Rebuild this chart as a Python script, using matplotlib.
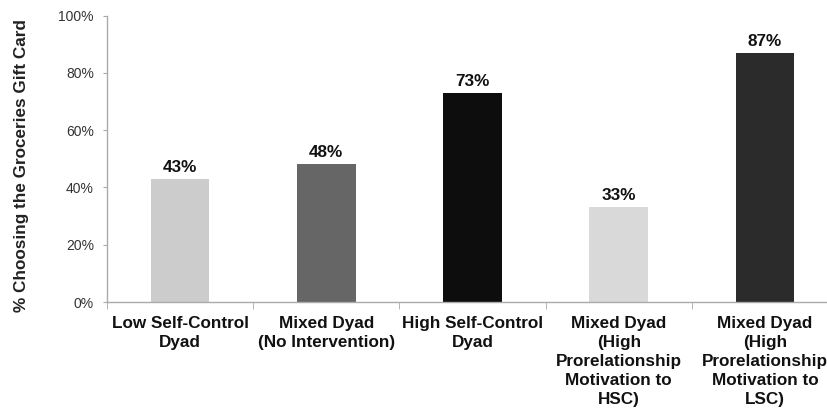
import numpy as np
import matplotlib.pyplot as plt
from matplotlib.ticker import PercentFormatter

plt.rcParams['font.family'] = ['Liberation Sans', 'DejaVu Sans']

categories = ['Low Self-Control\nDyad',
              'Mixed Dyad\n(No Intervention)',
              'High Self-Control\nDyad',
              'Mixed Dyad\n(High\nProrelationship\nMotivation to\nHSC)',
              'Mixed Dyad\n(High\nProrelationship\nMotivation to\nLSC)']
values = [43, 48, 73, 33, 87]
colors = ['#cccccc', '#666666', '#0d0d0d', '#d9d9d9', '#2b2b2b']

fig = plt.figure(figsize=(8.27, 4.12), dpi=100)
ax = fig.add_axes([107/827, 110/412, 731/827, 286.5/412])

x = np.arange(len(values))
bars = ax.bar(x, values, width=0.4, color=colors, zorder=2)
for b, v in zip(bars, values):
	ax.annotate('%d%%' % v, (b.get_x() + b.get_width()/2, v), xytext=(0, 3),
		textcoords='offset points', ha='center', va='bottom',
		fontsize=12.3, fontweight='bold', color='#111111')

ax.set_xlim(-0.5, 4.5)
ax.set_ylim(0, 100)
ax.set_yticks(np.arange(0, 101, 20))
ax.yaxis.set_major_formatter(PercentFormatter(decimals=0))
ax.set_xticks(x)
ax.set_xticklabels(categories, fontsize=12.3, fontweight='bold', linespacing=1.33)
ax.set_xticks(np.arange(-0.5, 4.6, 1), minor=True)
ax.tick_params(axis='x', which='major', length=0, pad=10, colors='#111111')
ax.tick_params(axis='x', which='minor', length=5, color='#aaaaaa')
ax.tick_params(axis='y', length=3, pad=6.5, labelsize=10, color='#aaaaaa', labelcolor='#333333')

for s in ['top', 'right']:
	ax.spines[s].set_visible(False)
for s in ['left', 'bottom']:
	ax.spines[s].set_color('#aaaaaa')
	ax.spines[s].set_linewidth(1)

fig.text(22/827, 1 - 166/412, '% Choosing the Groceries Gift Card', rotation=90,
	ha='center', va='center', fontsize=12.3, fontweight='bold', color='#222222')

fig.savefig('out.png', dpi=100)
